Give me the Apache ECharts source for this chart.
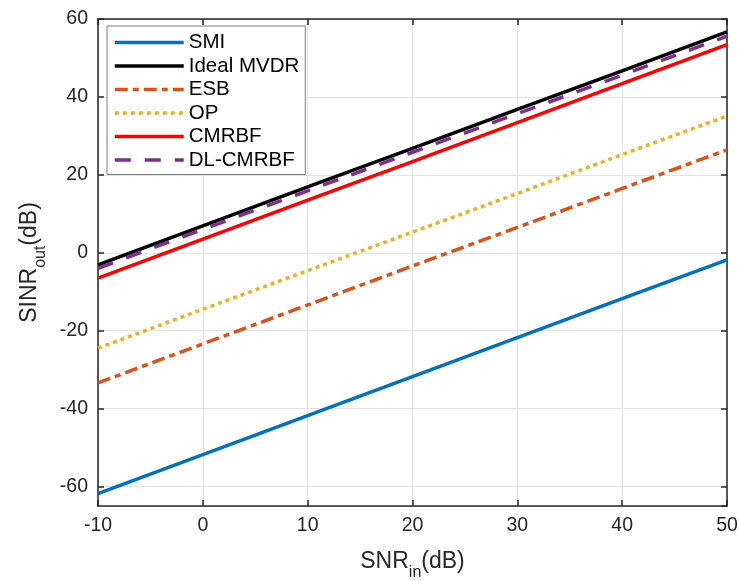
<!DOCTYPE html>
<html>
<head>
<meta charset="utf-8">
<script src="https://cdn.jsdelivr.net/npm/echarts@6/dist/echarts.min.js"></script>
<style>
html,body{margin:0;padding:0;background:#fff;}
#c{width:739px;height:581px;}
</style>
</head>
<body>
<div id="c"></div>
<script>
var snrIn = [-10, 0, 10, 20, 30, 40, 50];
var smi = [-61.8, -51.8, -41.8, -31.8, -21.8, -11.8, -1.8];
var idealMvdr = [-3.1, 6.9, 16.9, 26.8, 36.8, 46.7, 56.7];
var esb = [-33.4, -23.4, -13.4, -3.4, 6.5, 16.5, 26.4];
var op = [-24.5, -14.5, -4.6, 5.3, 15.2, 25.2, 35.1];
var cmrbf = [-6.5, 3.5, 13.5, 23.4, 33.4, 43.4, 53.4];
var dlCmrbf = [-4.0, 6.0, 15.9, 25.8, 35.7, 45.6, 55.6];
var xTicks = [-10, 0, 10, 20, 30, 40, 50];
var yTicks = [-60, -40, -20, 0, 20, 40, 60];

function pairs(xs, ys) { return xs.map(function (x, i) { return [x, ys[i]]; }); }

var axisColor = '#262626';
var font = 'Liberation Sans, Arial, sans-serif';

function mkSeries(name, data, color, type) {
  return {
    name: name, type: 'line', data: pairs(snrIn, data), symbol: 'none', showSymbol: false,
    lineStyle: { color: color, width: 3.5, type: type, cap: 'butt' },
    itemStyle: { color: color }, animation: false
  };
}

var chart = echarts.init(document.getElementById('c'), null, { renderer: 'canvas' });
chart.setOption({
  animation: false,
  backgroundColor: '#fff',
  grid: { left: 98, right: 12, top: 19, bottom: 75, containLabel: false, outerBoundsMode: 'none' },
  legend: {
    orient: 'vertical', left: 107, top: 26,
    itemWidth: 69, itemHeight: 14, itemGap: 2.5,
    padding: [6, 6, 4, 6],
    backgroundColor: '#fff', borderColor: '#7f7f7f', borderWidth: 1,
    itemStyle: { opacity: 0 },
    lineStyle: { width: 3.5 },
    textStyle: { fontFamily: font, fontSize: 20.5, lineHeight: 20, color: '#000' },
    data: ['SMI', 'Ideal MVDR', 'ESB', 'OP', 'CMRBF', 'DL-CMRBF']
  },
  xAxis: [{
    type: 'value', min: -10, max: 50, interval: 10,
    name: '{a|SNR}{s|in}{a|(dB)}', nameLocation: 'middle', nameGap: 37,
    nameTextStyle: {
      rich: {
        a: { fontFamily: font, fontSize: 23, color: axisColor, lineHeight: 26 },
        s: { fontFamily: font, fontSize: 16, color: axisColor, lineHeight: 38, verticalAlign: 'bottom' }
      }
    },
    axisLine: { show: true, onZero: false, lineStyle: { color: axisColor, width: 1.5 } },
    axisTick: { show: true, inside: true, length: 6, lineStyle: { color: axisColor, width: 1.5 } },
    axisLabel: { fontFamily: font, fontSize: 19.5, color: axisColor, margin: 10 },
    splitLine: { show: true, lineStyle: { color: '#e3e3e3', width: 1 } }
  }, {
    type: 'value', min: -10, max: 50, interval: 10, position: 'top',
    axisLine: { show: true, onZero: false, lineStyle: { color: axisColor, width: 1.5 } },
    axisTick: { show: true, inside: true, length: 6, lineStyle: { color: axisColor, width: 1.5 } },
    axisLabel: { show: false }, splitLine: { show: false }
  }],
  yAxis: [{
    type: 'value', min: -65, max: 60, splitNumber: 6,
    name: '{a|SINR}{s|out}{a|(dB)}', nameLocation: 'middle', nameGap: 49, nameRotate: 90,
    nameTextStyle: {
      rich: {
        a: { fontFamily: font, fontSize: 23, color: axisColor, lineHeight: 26 },
        s: { fontFamily: font, fontSize: 16, color: axisColor, lineHeight: 38, verticalAlign: 'bottom' }
      }
    },
    axisLine: { show: true, onZero: false, lineStyle: { color: axisColor, width: 1.5 } },
    axisTick: { show: true, inside: true, length: 6, lineStyle: { color: axisColor, width: 1.5 } },
    axisLabel: {
      fontFamily: font, fontSize: 19.5, color: axisColor, margin: 10, showMinLabel: false,
      formatter: function (v) { return yTicks.indexOf(v) >= 0 ? String(v) : ''; }
    },
    splitLine: { show: true, lineStyle: { color: '#e3e3e3', width: 1 } }
  }, {
    type: 'value', min: -65, max: 60, splitNumber: 6, position: 'right',
    axisLine: { show: true, onZero: false, lineStyle: { color: axisColor, width: 1.5 } },
    axisTick: { show: true, inside: true, length: 6, lineStyle: { color: axisColor, width: 1.5 } },
    axisLabel: { show: false }, splitLine: { show: false }
  }],
  series: [
    mkSeries('SMI', smi, '#0072BD', 'solid'),
    mkSeries('Ideal MVDR', idealMvdr, '#000000', 'solid'),
    mkSeries('ESB', esb, '#D95319', [13, 5, 6, 5]),
    mkSeries('OP', op, '#EDB120', [4, 4]),
    mkSeries('CMRBF', cmrbf, '#FF0000', 'solid'),
    mkSeries('DL-CMRBF', dlCmrbf, '#7E2F8E', [16, 14])
  ]
});
</script>
</body>
</html>
